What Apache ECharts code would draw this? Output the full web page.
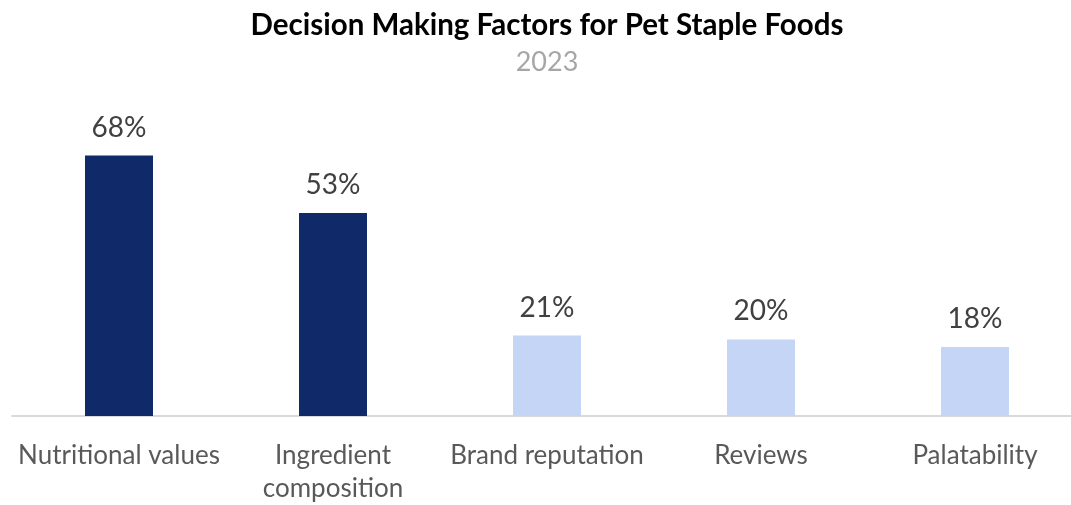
<!DOCTYPE html>
<html>
<head>
<meta charset="utf-8">
<script src="https://cdn.jsdelivr.net/npm/echarts@6/dist/echarts.min.js"></script>
<style>
  html, body { margin: 0; padding: 0; background: #ffffff; overflow: hidden; }
  #chart { width: 1094px; height: 505px; }
</style>
</head>
<body>
<div id="chart"></div>
<script>
// Share of respondents naming each factor (%)
const categories = ['Nutritional values', 'Ingredient\ncomposition', 'Brand reputation', 'Reviews', 'Palatability'];
const values = [68, 53, 21, 20, 18];
// Top two factors are highlighted in dark navy
const highlighted = [true, true, false, false, false];

const DARK = '#102a69';
const LIGHT = '#c5d5f5';
const FONT = 'Lato, "Open Sans", sans-serif';

const chart = echarts.init(document.getElementById('chart'), null, { renderer: 'canvas' });
chart.setOption({
  backgroundColor: '#ffffff',
  animation: false,
  title: [
    {
      text: 'Decision Making Factors for Pet Staple Foods',
      left: 'center', top: 5,
      textStyle: { fontFamily: FONT, fontSize: 29.5, fontWeight: 'bold', color: '#000000' }
    },
    {
      text: '2023',
      left: 'center', top: 44,
      textStyle: { fontFamily: FONT, fontSize: 27, fontWeight: 'normal', color: '#a6a6a6' }
    }
  ],
  grid: { left: 12, right: 12, top: 33, bottom: 85, containLabel: false },
  xAxis: {
    type: 'category',
    data: categories,
    axisLine: { show: true, lineStyle: { color: '#d9d9d9', width: 2 } },
    axisTick: { show: false },
    axisLabel: {
      interval: 0, margin: 23, fontFamily: FONT, fontSize: 26, color: '#595959', lineHeight: 33
    }
  },
  yAxis: {
    type: 'value', min: 0, max: 100,
    show: false, splitLine: { show: false }
  },
  series: [{
    type: 'bar',
    barWidth: 68,
    data: values.map((v, i) => ({ value: v, itemStyle: { color: highlighted[i] ? DARK : LIGHT } })),
    label: {
      show: true, position: 'top', distance: 14,
      formatter: p => p.value + '%',
      fontFamily: FONT, fontSize: 28, color: '#404040'
    }
  }]
});
</script>
</body>
</html>
